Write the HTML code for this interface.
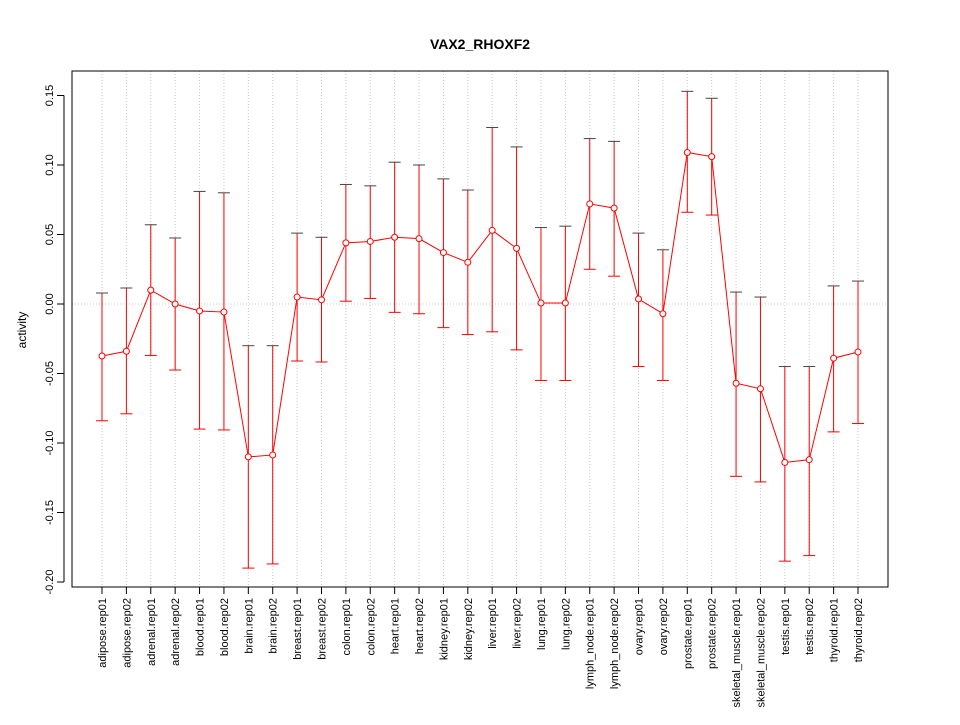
<!DOCTYPE html>
<html><head><meta charset="utf-8"><style>
body{margin:0;background:#fff;}
svg text{font-family:"Liberation Sans",sans-serif;}
</style></head><body>
<svg id="chart" width="960" height="720" xmlns="http://www.w3.org/2000/svg">
<text x="480" y="49" text-anchor="middle" font-size="14" font-weight="bold">VAX2_RHOXF2</text>
<text x="26" y="330" text-anchor="middle" font-size="12" transform="rotate(-90 26 330)">activity</text>
<g id="grid"></g><g id="axes"></g><g id="marks"></g>
<rect x="72" y="71" width="816" height="516" fill="none" stroke="#000"/>
</svg>
<script>
const categories=["adipose.rep01","adipose.rep02","adrenal.rep01","adrenal.rep02","blood.rep01","blood.rep02","brain.rep01","brain.rep02","breast.rep01","breast.rep02","colon.rep01","colon.rep02","heart.rep01","heart.rep02","kidney.rep01","kidney.rep02","liver.rep01","liver.rep02","lung.rep01","lung.rep02","lymph_node.rep01","lymph_node.rep02","ovary.rep01","ovary.rep02","prostate.rep01","prostate.rep02","skeletal_muscle.rep01","skeletal_muscle.rep02","testis.rep01","testis.rep02","thyroid.rep01","thyroid.rep02"];
const means=[-0.0374,-0.034,0.010,0,-0.005,-0.0058,-0.110,-0.1086,0.005,0.003,0.044,0.045,0.048,0.047,0.037,0.030,0.053,0.040,0.0007,0.0007,0.072,0.069,0.0036,-0.007,0.109,0.106,-0.057,-0.061,-0.114,-0.112,-0.039,-0.0345];
const uppers=[0.0079,0.0115,0.057,0.0475,0.081,0.080,-0.030,-0.030,0.051,0.048,0.086,0.085,0.102,0.100,0.090,0.082,0.127,0.113,0.055,0.056,0.119,0.117,0.051,0.039,0.153,0.148,0.0086,0.005,-0.045,-0.045,0.013,0.0165];
const lowers=[-0.084,-0.079,-0.037,-0.0475,-0.09,-0.0906,-0.19,-0.187,-0.041,-0.0417,0.002,0.004,-0.006,-0.007,-0.017,-0.022,-0.020,-0.033,-0.055,-0.055,0.025,0.020,-0.045,-0.055,0.066,0.064,-0.124,-0.128,-0.185,-0.181,-0.092,-0.086];
const yTicks=[-0.20,-0.15,-0.10,-0.05,0.00,0.05,0.10,0.15];
const yTickLabels=["-0.20","-0.15","-0.10","-0.05","0.00","0.05","0.10","0.15"];

const NS="http://www.w3.org/2000/svg";
const x=i=>102+i*(858-102)/(categories.length-1);
const y=v=>304-v*1390;
function mk(parent,tag,attrs){const e=document.createElementNS(NS,tag);for(const k in attrs)e.setAttribute(k,attrs[k]);document.getElementById(parent).appendChild(e);return e;}

categories.forEach((c,i)=>{
  const g=mk("grid","line",{x1:x(i),x2:x(i),y1:71,y2:587,stroke:"#c8c8c8","stroke-dasharray":"1,2"});
  
  
  const t=mk("axes","line",{x1:x(i),x2:x(i),y1:587,y2:594,stroke:"#000"});
  
  
  const l=mk("axes","text",{x:0,y:0,"font-size":"11","text-anchor":"end",transform:`translate(${x(i)+4},598) rotate(-90)`});
  l.textContent=c;
  
  
});
const z=mk("grid","line",{x1:72,x2:888,y1:y(0),y2:y(0),stroke:"#c8c8c8","stroke-dasharray":"1,2"});


const ya=mk("axes","line",{x1:64,x2:64,y1:y(yTicks[0]),y2:y(yTicks[yTicks.length-1]),stroke:"#000"});


yTicks.forEach((v,i)=>{
  const t=mk("axes","line",{x1:57,x2:64,y1:y(v),y2:y(v),stroke:"#000"});
  
  
  const l=mk("axes","text",{x:0,y:0,"font-size":"11","text-anchor":"middle",transform:`translate(53,${y(v)}) rotate(-90)`});
  l.textContent=yTickLabels[i];
  
  
});
let pts=means.map((m,i)=>x(i)+","+y(m)).join(" ");
const pl=mk("marks","polyline",{points:pts,fill:"none",stroke:"#ff0000","stroke-width":"1"});


means.forEach((m,i)=>{
  const eb=mk("marks","line",{x1:x(i),x2:x(i),y1:y(uppers[i]),y2:y(lowers[i]),stroke:"#ff0000"});
  
  
  const cu=mk("marks","line",{x1:x(i)-6,x2:x(i)+6,y1:y(uppers[i]),y2:y(uppers[i]),stroke:"#444"});
  
  
  const cl=mk("marks","line",{x1:x(i)-6,x2:x(i)+6,y1:y(lowers[i]),y2:y(lowers[i]),stroke:"#ff0000"});
  
  
  const p=mk("marks","circle",{cx:x(i),cy:y(m),r:3,fill:"#fff",stroke:"#ff0000"});
  
  
});
</script>
</body></html>
